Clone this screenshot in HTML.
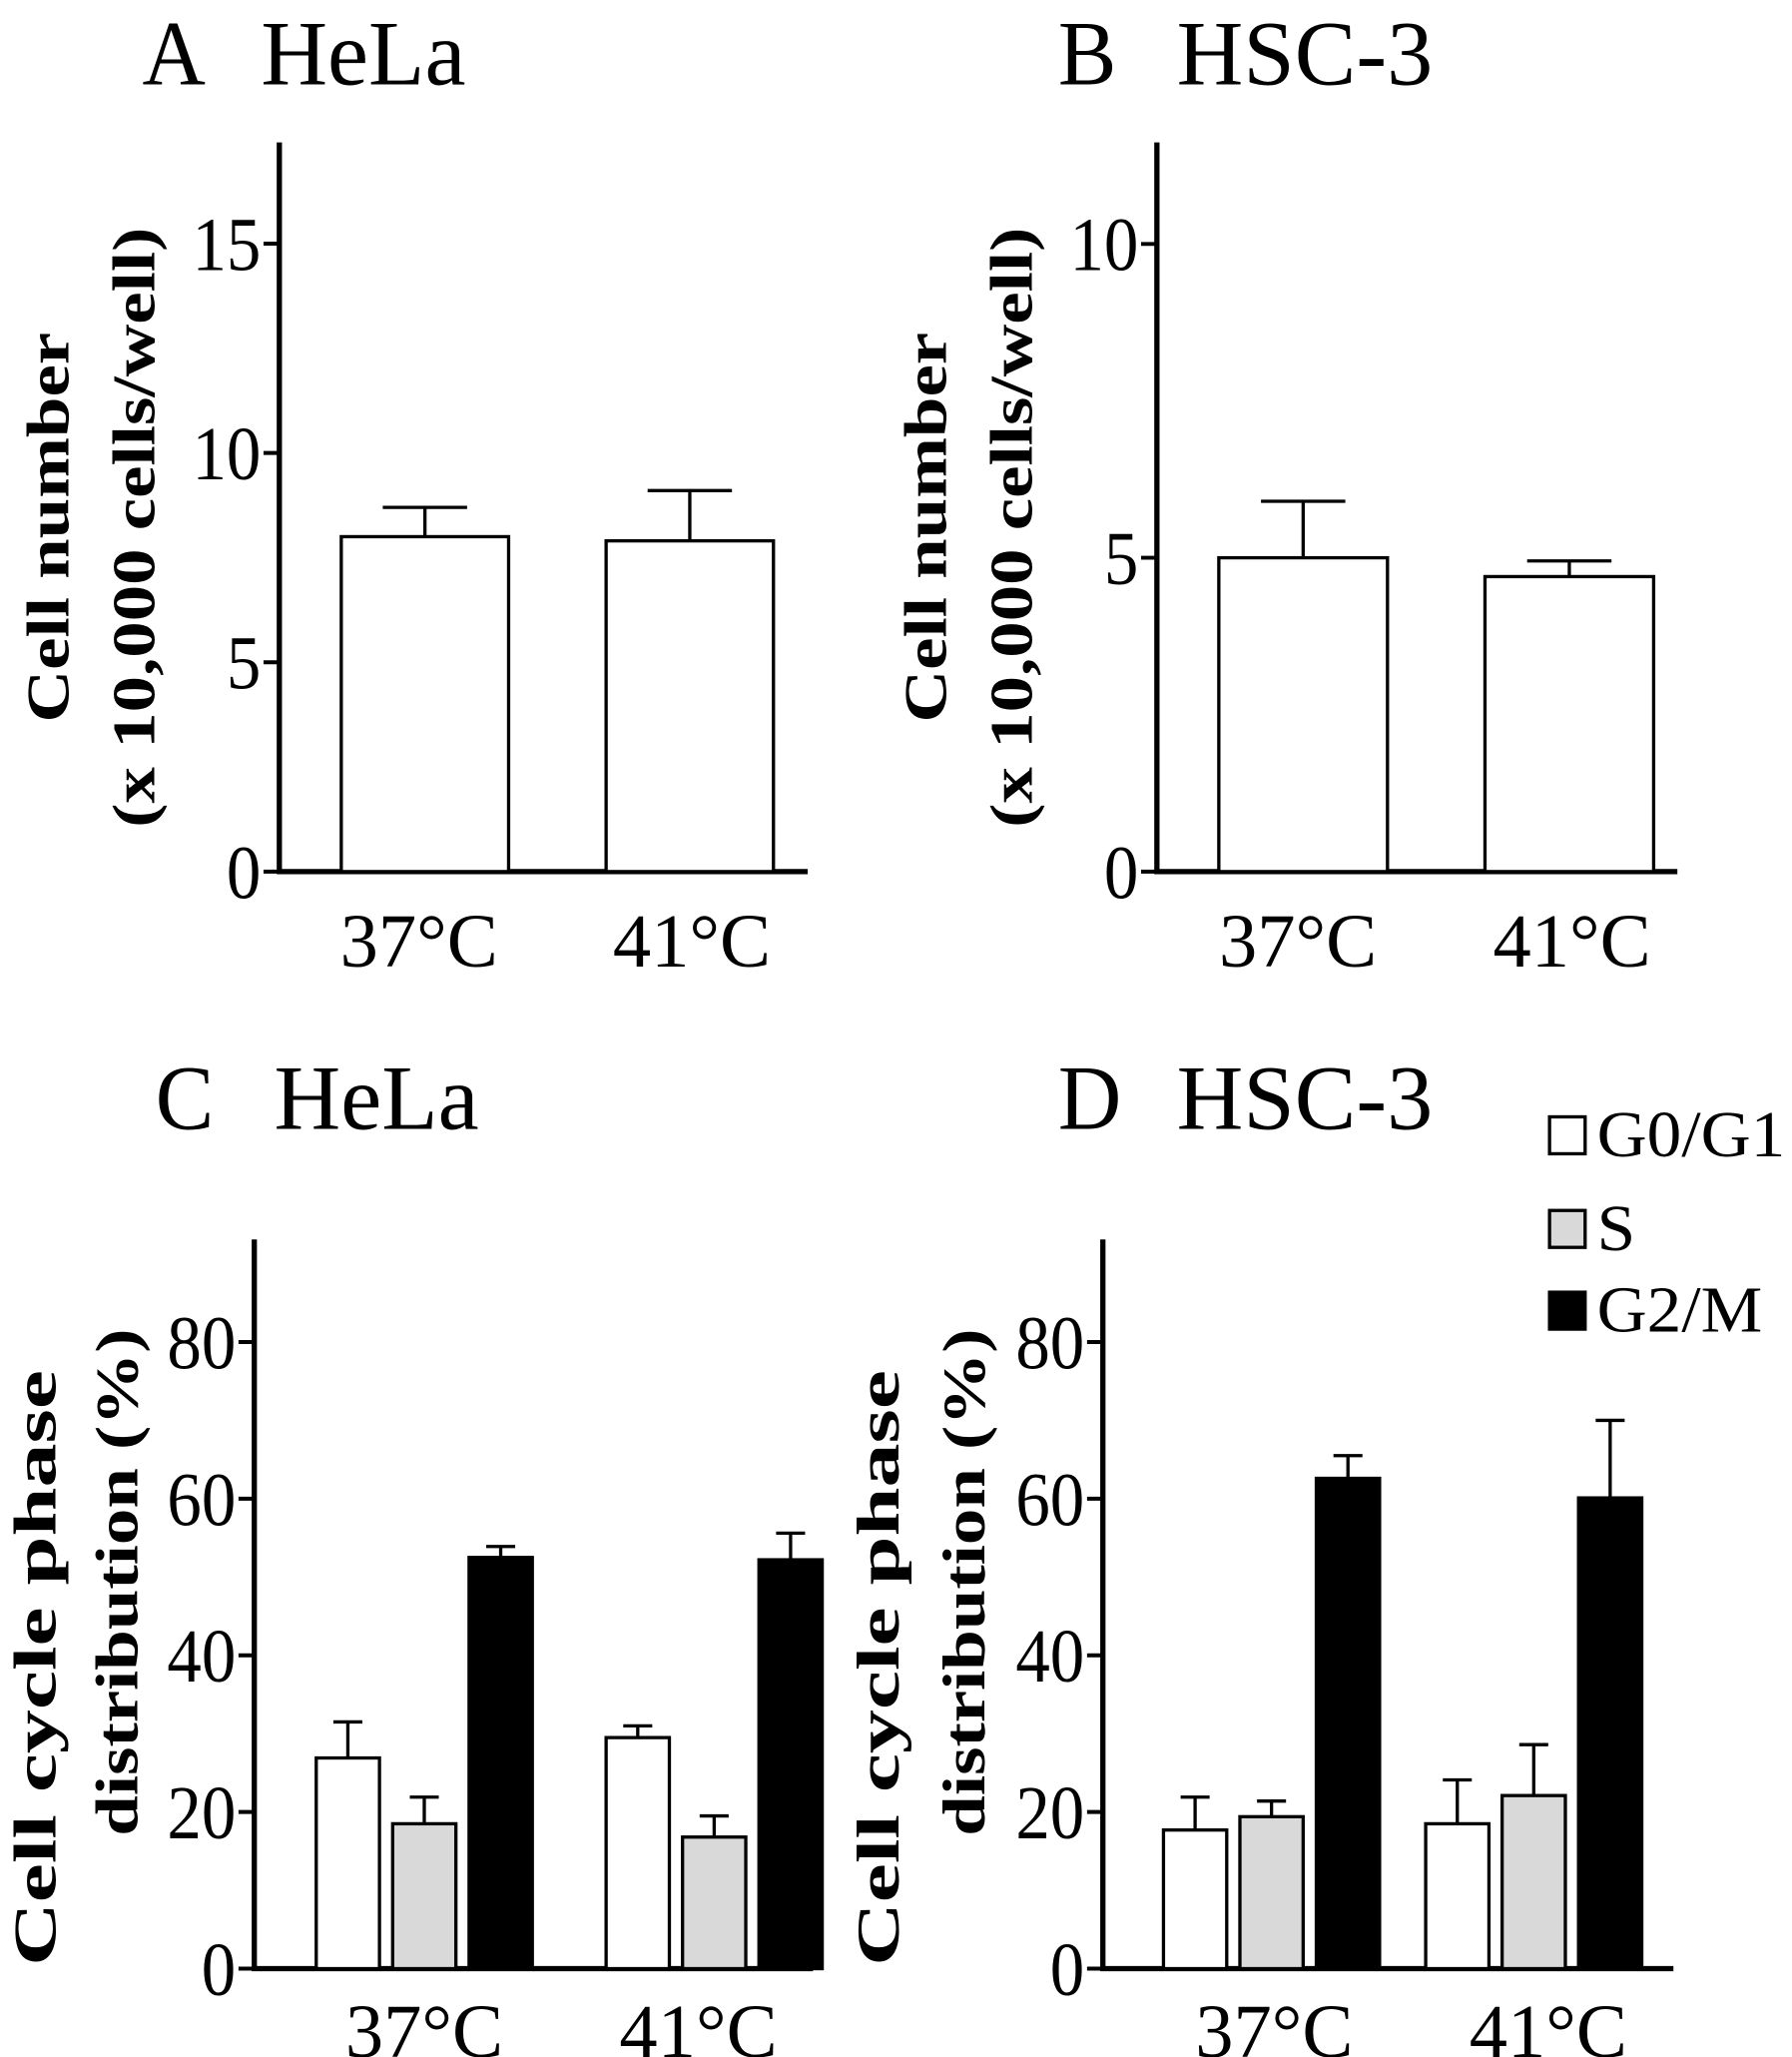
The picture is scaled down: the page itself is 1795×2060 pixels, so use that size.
<!DOCTYPE html>
<html><head><meta charset="utf-8"><style>
html,body{margin:0;padding:0;background:#fff}
svg{display:block}
text{font-family:"Liberation Serif",serif;fill:#000}
</style></head><body>
<svg id="fig" width="1795" height="2060" viewBox="0 0 1360 1560" preserveAspectRatio="none" xmlns="http://www.w3.org/2000/svg"></svg>
<script>
const groupsAB = ["37°C","41°C"];
const aValues = [8.0, 7.9];
const aErrors = [8.7, 9.1];
const aTicks = [0,5,10,15];
const bValues = [5.0, 4.7];
const bErrors = [5.9, 4.95];
const bTicks = [0,5,10];
const phases = ["G0/G1","S","G2/M"];
const phaseFills = ["#fff","#d9d9d9","#000"];
const cValues = [[26.9,18.5,52.5],[29.5,16.8,52.2]];
const cErrors = [[31.5,21.9,53.9],[31.0,19.5,55.6]];
const dValues = [[17.7,19.4,62.6],[18.5,22.1,60.1]];
const dErrors = [[21.9,21.4,65.5],[24.1,28.6,70.0]];
const cdTicks = [0,20,40,60,80];

const NS="http://www.w3.org/2000/svg";
const svg=document.getElementById('fig');
function el(tag,attrs,parent){const e=document.createElementNS(NS,tag);for(const k in attrs)e.setAttribute(k,attrs[k]);(parent||svg).appendChild(e);return e;}
function txt(parent,s,x,y,size,anchor,sx,rot,weight){
  const t=el('text',{x:0,y:0,'font-size':size,'text-anchor':anchor||'start','font-weight':weight||'normal',
    transform:`translate(${x},${y})${rot?' rotate(-90)':''} scale(${sx},1)`},parent);
  t.textContent=s;return t;
}

function panel(cfg){
  const g=el('g',{});
  
  
  const y=v=>cfg.y0-v*cfg.ppu;
  const t1=txt(g,cfg.letter,cfg.titleX,cfg.titleY,70,'start',0.95);
  
  
  const t=txt(g,cfg.title,cfg.titleX+90,cfg.titleY,70,'start',1.0);
  
  
  const ax=el('path',{d:`M${cfg.ax} ${cfg.top} V${cfg.y0} H${cfg.xEnd}`,stroke:'#000','stroke-width':4,fill:'none'},g);
  
  
  cfg.ticks.forEach(tv=>{
    el('line',{x1:cfg.ax-12,x2:cfg.ax,y1:y(tv),y2:y(tv),stroke:'#000','stroke-width':3},g);
    const tt=txt(g,String(tv),cfg.ax-14,y(tv)+20,58,'end',0.9);
    
    
  });
  cfg.ylab.forEach((s,i)=>{
    const yt=txt(g,s,cfg.ylabX[i],cfg.ylabY[i],46,'middle',cfg.ylabS[i],true,'bold');
    
    
  });
  cfg.groups.forEach((gl,gi)=>{
    const lt=txt(g,gl,cfg.labelX[gi],cfg.labelY,58,'middle',1.0);
    
    
    const vals=cfg.values[gi], errs=cfg.errors[gi];
    const arr=Array.isArray(vals)?vals:[vals], earr=Array.isArray(errs)?errs:[errs];
    arr.forEach((v,si)=>{
      const x=cfg.barX[gi]+si*cfg.step;
      const cx=x+cfg.bw/2;
      const fill=cfg.fills?cfg.fills[si]:'#fff';
      el('line',{x1:cx,x2:cx,y1:y(v),y2:y(earr[si]),stroke:'#000','stroke-width':2.5},g);
      el('line',{x1:cx-cfg.cap,x2:cx+cfg.cap,y1:y(earr[si]),y2:y(earr[si]),stroke:'#000','stroke-width':2.5},g);
      const r=el('rect',{x:x,y:y(v),width:cfg.bw,height:cfg.y0-y(v),fill:fill,stroke:'#000','stroke-width':2.5},g);
      
      
    });
  });
}
panel({name:'panel-a-hela',letter:'A',title:'HeLa',titleX:108,titleY:64,ax:212,top:108,y0:661,xEnd:613,ppu:31.75,ticks:aTicks,
  ylab:['Cell number','(x 10,000 cells/well)'],ylabS:[1.2,1.2],ylabX:[52,117],ylabY:[400,400],groups:groupsAB,labelX:[318,525],labelY:733,
  values:aValues,errors:aErrors,barX:[259,460],step:0,bw:127,cap:32});
panel({name:'panel-b-hsc3',letter:'B',title:'HSC-3',titleX:803,titleY:64,ax:878,top:108,y0:661,xEnd:1273,ppu:47.6,ticks:bTicks,
  ylab:['Cell number','(x 10,000 cells/well)'],ylabS:[1.2,1.2],ylabX:[718,783],ylabY:[400,400],groups:groupsAB,labelX:[985,1193],labelY:733,
  values:bValues,errors:bErrors,barX:[925,1127],step:0,bw:128,cap:32});
panel({name:'panel-c-hela',letter:'C',title:'HeLa',titleX:118,titleY:856,ax:193,top:940,y0:1493,xEnd:617,ppu:5.94,ticks:cdTicks,
  ylab:['Cell cycle phase','distribution (%)'],ylabS:[1.45,1.2],ylabX:[42,104],ylabY:[1265,1200],groups:groupsAB,labelX:[322,530],labelY:1560,
  values:cValues,errors:cErrors,fills:phaseFills,barX:[240,460],step:58,bw:48,cap:11});
panel({name:'panel-d-hsc3',letter:'D',title:'HSC-3',titleX:803,titleY:856,ax:837,top:940,y0:1493,xEnd:1270,ppu:5.94,ticks:cdTicks,
  ylab:['Cell cycle phase','distribution (%)'],ylabS:[1.45,1.2],ylabX:[682,747],ylabY:[1265,1200],groups:groupsAB,labelX:[967,1175],labelY:1560,
  values:dValues,errors:dErrors,fills:phaseFills,barX:[883,1082],step:58,bw:48,cap:11});

const legY=[847,918,980];
phases.forEach((p,i)=>{
  const lg=el('g',{});
  
  
  el('rect',{x:1176,y:legY[i],width:27,height:28,fill:phaseFills[i],stroke:'#000','stroke-width':2.5},lg);
  txt(lg,p,1212,legY[i]+30,50,'start',1.05);
});
</script>
</body></html>
